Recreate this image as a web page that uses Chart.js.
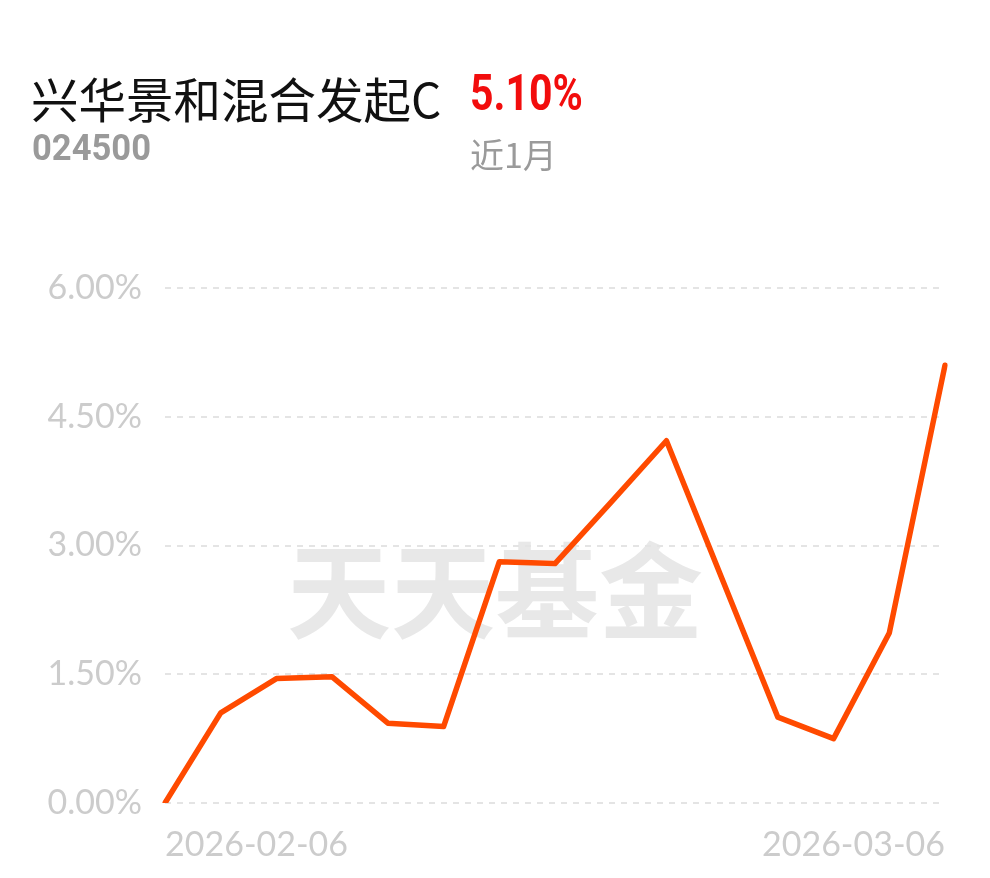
<!DOCTYPE html>
<html>
<head>
<meta charset="utf-8">
<script src="https://cdn.jsdelivr.net/npm/chart.js@4/dist/chart.umd.min.js"></script>
<style>
    html, body { margin: 0; padding: 0; background: #fff; }
    #wrap { position: relative; width: 990px; height: 878px; overflow: hidden; }
    #fundChart { position: absolute; left: 0; top: 0; }
    .hd { position: absolute; white-space: nowrap; line-height: 1; }
    #fundName { left: 31px; top: 63px; font: 400 47.5px "Noto Sans CJK SC", sans-serif; color: #111; }
    #fundRate { left: 470px; top: 64px; font: 700 50px Roboto, sans-serif; color: #f20d0d; transform: scaleX(0.82); transform-origin: left top; }
    #fundCode { left: 32px; top: 127px; font: 700 36px Roboto, sans-serif; color: #9a9a9a; transform: scaleX(0.96); transform-origin: left top; }
    #period { left: 470px; top: 129px; font: 400 34px "Noto Sans CJK SC", sans-serif; color: #9a9a9a; }
</style>
</head>
<body>
<div id="wrap">
    <canvas id="fundChart" width="990" height="878"></canvas>
    <div class="hd" id="fundName">兴华景和混合发起C</div>
    <div class="hd" id="fundRate">5.10%</div>
    <div class="hd" id="fundCode">024500</div>
    <div class="hd" id="period">近1月</div>
</div>
<script>
// 交易日
const dates = ['2026-02-06', '2026-02-09', '2026-02-10', '2026-02-11', '2026-02-12', '2026-02-13',
    '2026-02-24', '2026-02-25', '2026-02-26', '2026-02-27', '2026-03-02', '2026-03-03',
    '2026-03-04', '2026-03-05', '2026-03-06'];
// 累计收益率(%)
const returns = [0.00, 1.05, 1.45, 1.47, 0.93, 0.89, 2.81, 2.79, 3.50, 4.22, 2.61, 1.00, 0.75, 1.98, 5.10];
// y轴刻度
const yTicks = [0, 1.5, 3, 4.5, 6];

const tickFont = { family: 'Lato', size: 34 };

// 水印
const watermark = {
    id: 'watermark',
    beforeDraw(chart) {
        const ctx = chart.ctx;
        ctx.save();
        ctx.font = '700 104px "Noto Sans CJK SC"';
        ctx.fillStyle = '#e8e8e8';
        ctx.textAlign = 'center';
        ctx.textBaseline = 'middle';
        ctx.fillText('天天基金', 495, 591);
        ctx.restore();
    }
};

const ctx = document.getElementById('fundChart').getContext('2d');
const chart = new Chart(ctx, {
    type: 'line',
    data: {
        labels: dates,
        datasets: [{
            data: returns,
            borderColor: '#ff4a00',
            borderWidth: 5.5,
            borderJoinStyle: 'round',
            borderCapStyle: 'round',
            pointRadius: 0,
            tension: 0,
            fill: false
        }]
    },
    options: {
        responsive: false,
        devicePixelRatio: 1,
        animation: false,
        layout: { padding: { top: 288, right: 45, left: 0, bottom: 0 } },
        plugins: { legend: { display: false }, tooltip: { enabled: false } },
        scales: {
            x: {
                grid: { display: false },
                border: { display: false },
                afterFit(scale) { scale.height = 75; },
                ticks: {
                    autoSkip: false,
                    maxRotation: 0,
                    align: 'inner',
                    padding: 14,
                    color: '#cccccc',
                    font: tickFont,
                    callback: (v, i) => (i === 0 || i === dates.length - 1) ? dates[i] : ''
                }
            },
            y: {
                min: yTicks[0],
                max: yTicks[yTicks.length - 1],
                afterFit(scale) { scale.width = 165; },
                afterBuildTicks(scale) { scale.ticks = yTicks.map(v => ({ value: v })); },
                border: { display: false, dash: [6, 6] },
                grid: { color: '#e4e4e4', lineWidth: 2, drawTicks: false },
                ticks: {
                    padding: 23,
                    color: '#cccccc',
                    font: tickFont,
                    callback: v => v.toFixed(2) + '%'
                }
            }
        }
    },
    plugins: [watermark]
});
</script>
</body>
</html>
